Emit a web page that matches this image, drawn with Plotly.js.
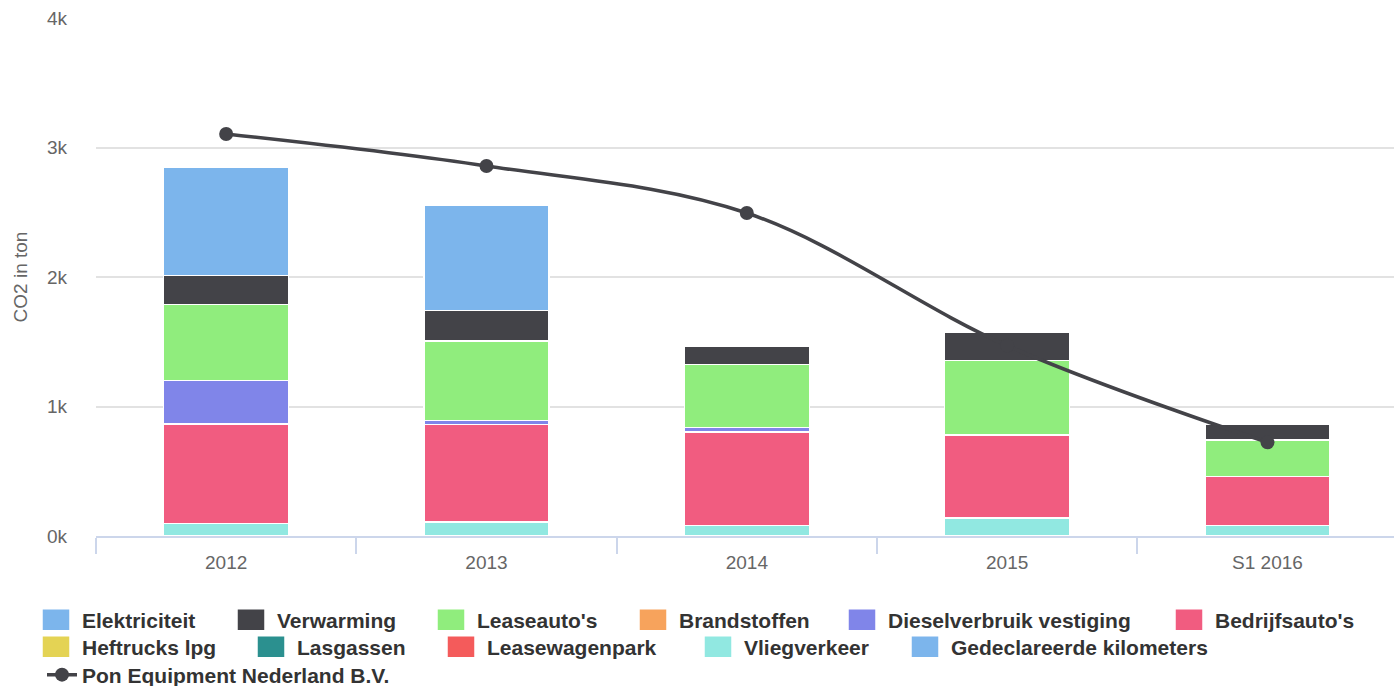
<!DOCTYPE html>
<html>
<head>
<meta charset="utf-8">
<script src="https://cdn.plot.ly/plotly-3.0.1.min.js"></script>
<style>html,body{margin:0;padding:0;background:#fff;}#chart{width:1394px;height:686px;}</style>
</head>
<body>
<div id="chart"></div>
<script>
// ---- data ----
const categories = ['2012', '2013', '2014', '2015', 'S1 2016'];
const elektriciteit = [837, 811, 0, 0, 0];
const verwarming = [224, 237, 144, 221, 121];
const leaseautos = [587, 613, 487, 574, 280];
const brandstoffen = [0, 0, 0, 0, 0];
const dieselverbruik = [335, 31, 31, 0, 0];
const bedrijfsautos = [770, 752, 725, 641, 381];
const heftrucks = [0, 0, 0, 0, 0];
const lasgassen = [0, 0, 0, 0, 0];
const leasewagenpark = [0, 0, 0, 0, 0];
const vliegverkeer = [95, 110, 80, 139, 80];
const gedeclareerde = [0, 0, 0, 0, 0];
const ponEquipment = [3104, 2857, 2494, 1470, 723];
const yTickVals = [0, 1000, 2000, 3000, 4000];
const yTickText = ['0k', '1k', '2k', '3k', '4k'];

// ---- layout helpers ----
const plotL = 96, plotR = 1394, plotT = 18, plotB = 536;
const px2x = p => (p - plotL) / (plotR - plotL);
const px2y = p => (plotB - p) / (plotB - plotT);

// bar series in legend order (top of stack first)
const barSeries = [
  {name: 'Elektriciteit', data: elektriciteit, color: '#7cb5ec', pos: [42, 620]},
  {name: 'Verwarming', data: verwarming, color: '#434348', pos: [237, 620]},
  {name: "Leaseauto's", data: leaseautos, color: '#90ed7d', pos: [437, 620]},
  {name: 'Brandstoffen', data: brandstoffen, color: '#f7a35c', pos: [639, 620]},
  {name: 'Dieselverbruik vestiging', data: dieselverbruik, color: '#8085e9', pos: [848, 620]},
  {name: "Bedrijfsauto's", data: bedrijfsautos, color: '#f15c80', pos: [1175, 620]},
  {name: 'Heftrucks lpg', data: heftrucks, color: '#e4d354', pos: [42, 647]},
  {name: 'Lasgassen', data: lasgassen, color: '#2b908f', pos: [257, 647]},
  {name: 'Leasewagenpark', data: leasewagenpark, color: '#f45b5b', pos: [447, 647]},
  {name: 'Vliegverkeer', data: vliegverkeer, color: '#91e8e1', pos: [704, 647]},
  {name: 'Gedeclareerde kilometers', data: gedeclareerde, color: '#7cb5ec', pos: [911, 647]}
];

const legendFont = {family: 'Liberation Sans, Arial, sans-serif', size: 21, color: '#333333', weight: 700};
const layout = {
  width: 1394, height: 686,
  margin: {l: plotL, r: 1394 - plotR, t: plotT, b: 686 - plotB, pad: 0, autoexpand: false},
  paper_bgcolor: '#ffffff', plot_bgcolor: '#ffffff',
  barmode: 'stack', bargap: 0.52,
  showlegend: true,
  hovermode: false,
  font: {family: 'Liberation Sans, Arial, sans-serif', color: '#666666', size: 19},
  xaxis: {
    type: 'category', range: [-0.5, 4.486],
    tickson: 'boundaries', ticks: 'outside', ticklen: 16, tickwidth: 2, tickcolor: '#ccd6eb',
    showline: true, linecolor: '#ccd6eb', linewidth: 2,
    showgrid: false, zeroline: false,
    ticklabelstandoff: 8,
    tickfont: {size: 19, color: '#666666'},
    fixedrange: true
  },
  yaxis: {
    range: [0, 4000], tickvals: yTickVals, ticktext: yTickText,
    showgrid: true, gridcolor: '#e2e2e2', gridwidth: 2,
    zeroline: false, showline: false, ticks: '',
    ticklabelstandoff: 28,
    tickfont: {size: 19, color: '#666666'},
    title: {text: 'CO2 in ton', font: {size: 19, color: '#666666'}, standoff: 14},
    fixedrange: true
  }
};

const traces = [];
// stack bottom first: reverse order
for (let i = barSeries.length - 1; i >= 0; i--) {
  const s = barSeries[i];
  const lg = 'legend' + (i === 0 ? '' : (i + 1));
  traces.push({
    type: 'bar', name: s.name, x: categories, y: s.data,
    marker: {color: s.color, line: {color: '#ffffff', width: 1.5}},
    legend: lg, legendrank: i + 1
  });
  layout[lg] = {
    x: px2x(s.pos[0]), y: px2y(s.pos[1]), xanchor: 'left', yanchor: 'middle',
    bgcolor: 'rgba(0,0,0,0)', font: legendFont, orientation: 'v'
  };
}
traces.push({
  type: 'scatter', mode: 'lines+markers', name: 'Pon Equipment Nederland B.V.',
  x: categories, y: ponEquipment,
  line: {color: '#434348', width: 3.5, shape: 'spline', smoothing: 1},
  marker: {color: '#434348', size: 14},
  legend: 'legend12', legendrank: 12
});
layout['legend12'] = {
  x: px2x(42), y: px2y(675), xanchor: 'left', yanchor: 'middle',
  bgcolor: 'rgba(0,0,0,0)', font: legendFont, orientation: 'v'
};

function enlargeSwatches(gd) {
  // widen the square legend swatches of the bar series to match the reference
  gd.querySelectorAll('g.legendpoints path').forEach(function (p) {
    const d = (p.getAttribute('d') || '').replace(/\s/g, '');
    if (d === 'M6,6H-6V-6H6Z') p.setAttribute('d', 'M8,11H-20V-11H8Z');
  });
}
Plotly.newPlot('chart', traces, layout, {displayModeBar: false, staticPlot: true}).then(function (gd) {
  enlargeSwatches(gd);
  setTimeout(function () { enlargeSwatches(gd); }, 50);
});
</script>
</body>
</html>
